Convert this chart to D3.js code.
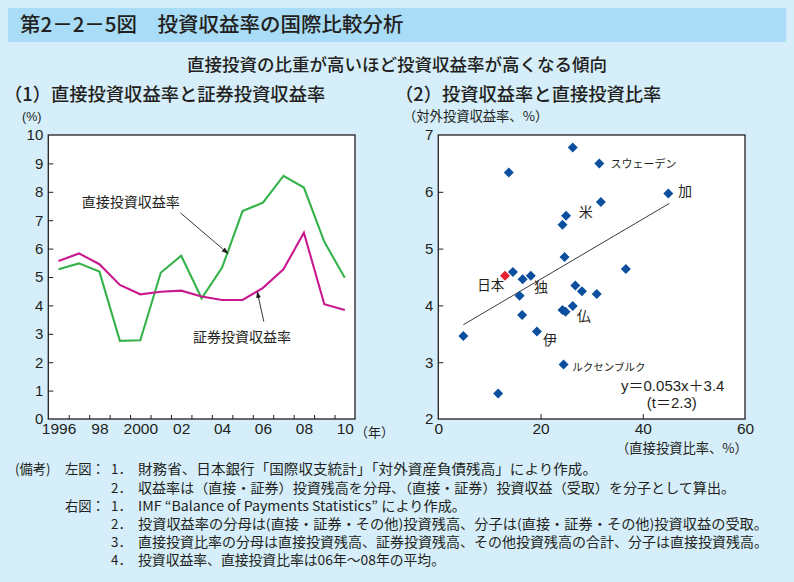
<!DOCTYPE html>
<html><head><meta charset="utf-8">
<script src="https://cdn.jsdelivr.net/npm/d3@7"></script>
<style>
html,body{margin:0;padding:0;background:#d5eefa;}
svg{display:block;}
text{fill:#231f20;}
.jp{font-family:"Noto Sans CJK JP","Noto Sans",sans-serif;}
.num{font-family:"Liberation Sans",Arial,"Noto Sans CJK JP",sans-serif;}
</style></head>
<body>
<svg id="c" width="794" height="582"></svg>
<script>
// ---------- data ----------
const years = [1996,1997,1998,1999,2000,2001,2002,2003,2004,2005,2006,2007,2008,2009,2010];
const directReturn = [5.27,5.48,5.19,2.75,2.77,5.15,5.75,4.25,5.33,7.32,7.62,8.56,8.15,6.24,4.97];
const portfolioReturn = [5.56,5.83,5.45,4.72,4.39,4.48,4.52,4.31,4.19,4.19,4.62,5.27,6.56,4.04,3.84];
const yearTickValues = [1996,1998,2000,2002,2004,2006,2008,2010];
const yearTickLabels = ["1996","98","2000","02","04","06","08","10"];
const leftYTicks = [0,1,2,3,4,5,6,7,8,9,10];

// scatter: direct investment share (%) and investment return rate (%)
const shareX = [26.3,31.5,13.8,45.0,31.8,25.0,24.3,24.7,36.7,14.6,16.5,18.1,15.9,26.8,28.1,31.0,26.3,24.3,24.9,16.4,19.3,4.9,24.5,11.7];
const rateY  = [6.78,6.50,6.34,5.97,5.82,5.58,5.42,4.85,4.64,4.59,4.46,4.52,4.17,4.35,4.25,4.20,3.99,3.92,3.89,3.83,3.54,3.46,2.96,2.45];
const japanX = [13.05];
const japanY = [4.52];
const regSlope = 0.053, regIntercept = 3.4, regRange = [4.9, 45.2];
const rightXTicks = [0,20,40,60];
const rightYTicks = [2,3,4,5,6,7];

// country labels (data coordinates)
const cLabels = [
  {t:"スウェーデン", x:33.7, y:6.48, s:11},
  {t:"加", x:46.9, y:6.02, s:14},
  {t:"米", x:27.5, y:5.64, s:14},
  {t:"日本", x:7.6, y:4.35, s:13.5},
  {t:"独", x:18.7, y:4.32, s:14},
  {t:"仏", x:27.1, y:3.81, s:14},
  {t:"伊", x:20.5, y:3.39, s:14},
  {t:"ルクセンブルク", x:26.2, y:2.92, s:10.5}
];

const notes = [
  {c1:"(備考)", c2:"左図：", n:"1．", t:"財務省、日本銀行「国際収支統計」「対外資産負債残高」により作成。", end:597},
  {c1:"", c2:"", n:"2．", t:"収益率は（直接・証券）投資残高を分母、（直接・証券）投資収益（受取）を分子として算出。", end:735},
  {c1:"", c2:"右図：", n:"1．", t:"IMF “Balance of Payments Statistics” により作成。", end:466},
  {c1:"", c2:"", n:"2．", t:"投資収益率の分母は(直接・証券・その他)投資残高、分子は(直接・証券・その他)投資収益の受取。", end:768},
  {c1:"", c2:"", n:"3．", t:"直接投資比率の分母は直接投資残高、証券投資残高、その他投資残高の合計、分子は直接投資残高。", end:768},
  {c1:"", c2:"", n:"4．", t:"投資収益率、直接投資比率は06年～08年の平均。", end:445}
];

// ---------- drawing ----------
const svg = d3.select("#c");
const ink = "#231f20";

// header
svg.append("rect").attr("x",8).attr("y",8).attr("width",778).attr("height",34).attr("fill","#a9dcf6");
svg.append("text").attr("class","jp").attr("x",20).attr("y",32).attr("font-size",20.5).attr("font-weight",500)
  .text("第2－2－5図　投資収益率の国際比較分析");
svg.append("text").attr("class","jp").attr("x",397).attr("y",71).attr("font-size",17.5).attr("font-weight",500)
  .attr("text-anchor","middle").text("直接投資の比重が高いほど投資収益率が高くなる傾向");
svg.append("text").attr("class","jp").attr("x",4).attr("y",101).attr("font-size",18.3).attr("font-weight",500)
  .text("（1）直接投資収益率と証券投資収益率");
svg.append("text").attr("class","jp").attr("x",395).attr("y",101).attr("font-size",18.3).attr("font-weight",500)
  .text("（2）投資収益率と直接投資比率");

// ----- left chart -----
const L = {x0:48.3, x1:355, y0:135, y1:419};
const xL = d3.scaleLinear().domain([1995.5, 2010.5]).range([L.x0, L.x1]);
const yL = d3.scaleLinear().domain([0,10]).range([L.y1, L.y0]);
const gL = svg.append("g");
gL.append("rect").attr("x",L.x0).attr("y",L.y0).attr("width",L.x1-L.x0).attr("height",L.y1-L.y0)
  .attr("fill","#fff");
// inner ticks
const innerY = gL.append("g").attr("transform",`translate(${L.x0},0)`)
  .call(d3.axisRight(yL).tickValues(leftYTicks.slice(1,-1)).tickSize(5).tickFormat(""));
const boundaries = years.slice(0,-1).map(y=>y+0.5);
const innerX = gL.append("g").attr("transform",`translate(0,${L.y1})`)
  .call(d3.axisTop(xL).tickValues(boundaries).tickSize(4).tickFormat(""));
[innerY, innerX].forEach(g=>{g.select(".domain").remove(); g.selectAll("line").attr("stroke",ink).attr("stroke-width",1);});
// labels
const labY = gL.append("g").attr("transform",`translate(${L.x0},0)`)
  .call(d3.axisLeft(yL).tickValues(leftYTicks).tickSize(0).tickPadding(5).tickFormat(d3.format("d")));
const labX = gL.append("g").attr("transform",`translate(0,${L.y1})`)
  .call(d3.axisBottom(xL).tickValues(yearTickValues).tickSize(0).tickPadding(4)
    .tickFormat((d,i)=>yearTickLabels[i]));
[labY,labX].forEach(g=>{g.select(".domain").remove(); g.attr("font-family",null);
  g.selectAll("text").attr("class","num").attr("font-size",15.5).attr("fill",ink);});
labY.selectAll("text").attr("font-size",15);
gL.append("text").attr("class","num").attr("x",22).attr("y",121).attr("font-size",12.5).text("(%)");
gL.append("text").attr("class","jp").attr("x",355).attr("y",437).attr("font-size",13).text("（年）");

const lineL = d3.line().x((d,i)=>xL(years[i])).y(d=>yL(d));
gL.append("path").datum(directReturn).attr("d",lineL).attr("fill","none")
  .attr("stroke","#35b34a").attr("stroke-width",2.1).attr("stroke-linejoin","miter");
gL.append("path").datum(portfolioReturn).attr("d",lineL).attr("fill","none")
  .attr("stroke","#c8198e").attr("stroke-width",2.1);
gL.append("rect").attr("x",L.x0).attr("y",L.y0).attr("width",L.x1-L.x0).attr("height",L.y1-L.y0)
  .attr("fill","none").attr("stroke",ink).attr("stroke-width",1.3);

// annotations (data coords)
const defs = svg.append("defs");
defs.append("marker").attr("id","ah").attr("viewBox","0 0 10 10").attr("refX",9).attr("refY",5)
  .attr("markerWidth",7).attr("markerHeight",7).attr("orient","auto-start-reverse")
  .attr("markerUnits","userSpaceOnUse")
  .append("path").attr("d","M0,1.5 L10,5 L0,8.5 Z").attr("fill",ink);
const annos = [
  {t:"直接投資収益率", tx:1997.14, ty:7.65, ax:[2001.96,7.26], bx:[2004.29,5.83]},
  {t:"証券投資収益率", tx:2002.58, ty:2.90, ax:[2006.04,3.43], bx:[2005.72,4.48]}
];
annos.forEach(a=>{
  gL.append("text").attr("class","jp").attr("x",xL(a.tx)).attr("y",yL(a.ty)).attr("dy","0.36em")
    .attr("font-size",14).text(a.t);
  gL.append("line").attr("x1",xL(a.ax[0])).attr("y1",yL(a.ax[1])).attr("x2",xL(a.bx[0])).attr("y2",yL(a.bx[1]))
    .attr("stroke",ink).attr("stroke-width",0.9).attr("marker-end","url(#ah)");
});

// ----- right chart -----
const R = {x0:438.3, x1:745, y0:135, y1:419};
const xR = d3.scaleLinear().domain([0,60]).range([R.x0,R.x1]);
const yR = d3.scaleLinear().domain([2,7]).range([R.y1,R.y0]);
const gR = svg.append("g");
gR.append("rect").attr("x",R.x0).attr("y",R.y0).attr("width",R.x1-R.x0).attr("height",R.y1-R.y0).attr("fill","#fff");
const rIY = gR.append("g").attr("transform",`translate(${R.x0},0)`)
  .call(d3.axisRight(yR).tickValues(rightYTicks.slice(1,-1)).tickSize(5).tickFormat(""));
const rIX = gR.append("g").attr("transform",`translate(0,${R.y1})`)
  .call(d3.axisTop(xR).tickValues(rightXTicks.slice(1,-1)).tickSize(5).tickFormat(""));
[rIY,rIX].forEach(g=>{g.select(".domain").remove(); g.selectAll("line").attr("stroke",ink).attr("stroke-width",1);});
const rLY = gR.append("g").attr("transform",`translate(${R.x0},0)`)
  .call(d3.axisLeft(yR).tickValues(rightYTicks).tickSize(0).tickPadding(5).tickFormat(d3.format("d")));
const rLX = gR.append("g").attr("transform",`translate(0,${R.y1})`)
  .call(d3.axisBottom(xR).tickValues(rightXTicks).tickSize(0).tickPadding(4).tickFormat(d3.format("d")));
[rLY,rLX].forEach(g=>{g.select(".domain").remove(); g.attr("font-family",null);
  g.selectAll("text").attr("class","num").attr("font-size",15.5).attr("fill",ink);});
rLY.selectAll("text").attr("font-size",15);
gR.append("text").attr("class","jp").attr("x",403).attr("y",121).attr("font-size",13.3).text("（対外投資収益率、%）");
gR.append("text").attr("class","jp").attr("x",616).attr("y",453).attr("font-size",13.3).text("（直接投資比率、%）");

// regression line
gR.append("line").attr("x1",xR(regRange[0])).attr("y1",yR(regSlope*regRange[0]+regIntercept))
  .attr("x2",xR(regRange[1])).attr("y2",yR(regSlope*regRange[1]+regIntercept))
  .attr("stroke","#3a3a3a").attr("stroke-width",1);

const sym = d3.symbol().type(d3.symbolSquare).size(50)();
gR.selectAll("path.pt").data(shareX).join("path").attr("class","pt").attr("d",sym)
  .attr("transform",(d,i)=>`translate(${xR(d)},${yR(rateY[i])}) rotate(45)`).attr("fill","#0b4f9e");
gR.selectAll("path.jp-pt").data(japanX).join("path").attr("class","jp-pt").attr("d",sym)
  .attr("transform",(d,i)=>`translate(${xR(d)},${yR(japanY[i])}) rotate(45)`).attr("fill","#e5202e");

cLabels.forEach(c=>{
  gR.append("text").attr("class","jp").attr("x",xR(c.x)).attr("y",yR(c.y)).attr("dy","0.36em")
    .attr("font-size",c.s).text(c.t);
});
gR.append("text").attr("class","num").attr("x",xR(35.75)).attr("y",yR(2.59)).attr("dy","0.36em")
  .attr("font-size",15).text("y＝0.053x＋3.4");
gR.append("text").attr("class","num").attr("x",xR(40.8)).attr("y",yR(2.29)).attr("dy","0.36em")
  .attr("font-size",15).text("(t＝2.3)");

gR.append("rect").attr("x",R.x0).attr("y",R.y0).attr("width",R.x1-R.x0).attr("height",R.y1-R.y0)
  .attr("fill","none").attr("stroke",ink).attr("stroke-width",1.3);

// ----- notes -----
const baseY = [474,493,511,529,547,565];
const gN = svg.append("g").attr("class","jp").attr("font-size",13.3);
notes.forEach((n,i)=>{
  if(n.c1) gN.append("text").attr("x",15).attr("y",baseY[i]).text(n.c1);
  if(n.c2) gN.append("text").attr("x",65).attr("y",baseY[i]).text(n.c2);
  gN.append("text").attr("x",111).attr("y",baseY[i]).text(n.n);
  gN.append("text").attr("x",138).attr("y",baseY[i]).attr("textLength",n.end-138)
    .attr("lengthAdjust","spacingAndGlyphs").text(n.t);
});
</script>
</body></html>
